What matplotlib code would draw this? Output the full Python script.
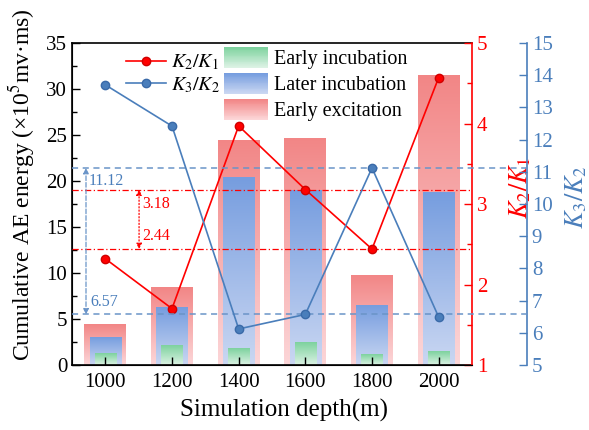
import numpy as np
import matplotlib
matplotlib.use("Agg")
from matplotlib import pyplot as plt
from matplotlib.colors import LinearSegmentedColormap, to_rgb
from matplotlib.legend_handler import HandlerBase
from matplotlib.patches import Rectangle
from matplotlib.lines import Line2D
from matplotlib.ticker import MultipleLocator

plt.rcParams['font.family'] = ['Liberation Serif', 'DejaVu Serif']
plt.rcParams['mathtext.fontset'] = 'stix'

depths = ['1000', '1200', '1400', '1600', '1800', '2000']
early_incubation = [1.27, 2.1, 1.74, 2.43, 1.12, 1.45]
later_incubation = [2.97, 6.3, 20.4, 19.0, 6.5, 18.8]
early_excitation = [4.35, 8.4, 24.4, 24.6, 9.7, 31.5]
k2_k1 = [2.32, 1.70, 3.97, 3.18, 2.44, 4.57]
k3_k2 = [13.7, 12.42, 6.12, 6.57, 11.12, 6.49]
k3_refs = [11.12, 6.57]
k2_refs = [3.18, 2.44]

RED = '#ff0000'
BLUE = '#4a7ebb'

# gradient colours (top, bottom)
grads = {
    'Early incubation': ('#7dd29e', '#dcf2e4'),
    'Later incubation': ('#769ddf', '#cad7f2'),
    'Early excitation': ('#f28686', '#fcd6d8'),
}

fig = plt.figure(figsize=(5.89, 4.30), dpi=100)
ax = fig.add_axes([72 / 589, 65 / 430, 400 / 589, 322 / 430])
ax2 = ax.twinx()
ax3 = ax.twinx()
ax3.spines['right'].set_position(('axes', 455 / 400))

x = np.arange(len(depths))


def grad_bars(values, width, key):
    top, bot = grads[key]
    cmap = LinearSegmentedColormap.from_list(key, [bot, top])
    bars = ax.bar(x, values, width, color='none', edgecolor='none')
    g = np.linspace(0, 1, 256).reshape(-1, 1)
    for b in bars:
        x0, y0 = b.get_x(), b.get_y()
        ax.imshow(g, cmap=cmap, origin='lower', aspect='auto',
                  extent=[x0, x0 + b.get_width(), y0, y0 + b.get_height()], zorder=1)


grad_bars(early_excitation, 0.63, 'Early excitation')
grad_bars(later_incubation, 0.47, 'Later incubation')
grad_bars(early_incubation, 0.32, 'Early incubation')

ax.set_xlim(-0.5, 5.5)
ax.set_ylim(0, 35)
ax.set_xticks(x)
ax.set_xticklabels(depths)
ax.yaxis.set_major_locator(MultipleLocator(5))
ax.yaxis.set_minor_locator(MultipleLocator(2.5))
ax.tick_params(axis='both', direction='in', labelsize=15, length=6, width=1)
ax.tick_params(axis='y', which='minor', direction='in', length=3.5, width=1)
ax.tick_params(axis='x', pad=6)
ax.set_ylabel('Cumulative AE energy (×10$^5$mv·ms)', fontsize=17)
ax.yaxis.set_label_coords(-0.0875, 0.56)
ax.set_xlabel('Simulation depth(m)', fontsize=18, labelpad=4)
ax.xaxis.set_label_coords(0.53, -0.105)
ax.spines['right'].set_visible(False)
for s in ['left', 'bottom', 'top']:
    ax.spines[s].set_linewidth(1.2)

# K2/K1
ax2.plot(x, k2_k1, color=RED, lw=1.2, marker='o', ms=6, mec='#d00000', mfc=RED, zorder=5)
ax2.set_ylim(1, 5)
ax2.yaxis.set_major_locator(MultipleLocator(1))
ax2.yaxis.set_minor_locator(MultipleLocator(0.5))
ax2.tick_params(axis='y', which='both', direction='in', colors=RED, labelsize=15, length=6, width=1)
ax2.tick_params(axis='y', which='minor', length=3.5)
ax2.spines['right'].set_color(RED)
ax2.spines['right'].set_linewidth(1.2)
ax2.set_ylabel('$K_2/K_1$', color=RED, fontsize=19)
ax2.yaxis.set_label_coords(1.0875, 0.55)
for v in k2_refs:
    ax2.axhline(v, color=RED, lw=0.9, ls=(0, (5, 2, 1, 2)), zorder=3)
ax2.annotate('', xy=(0.506, k2_refs[0]), xytext=(0.506, k2_refs[1]),
             arrowprops=dict(arrowstyle='<|-|>', color=RED, lw=0.9, ls=':',
                             mutation_scale=8, shrinkA=0, shrinkB=0))
ax2.text(0.56, k2_refs[0] - 0.08, '%.2f' % k2_refs[0], color=RED, fontsize=11.5, va='top')
ax2.text(0.56, k2_refs[1] + 0.06, '%.2f' % k2_refs[1], color=RED, fontsize=11.5, va='bottom')

# K3/K2
ax3.plot(x, k3_k2, color=BLUE, lw=1.2, marker='o', ms=6, mec='#3a6aa8', mfc=BLUE, zorder=5)
ax3.set_ylim(5, 15)
ax3.yaxis.set_major_locator(MultipleLocator(1))
ax3.tick_params(axis='y', direction='in', colors=BLUE, labelsize=15, length=6, width=1)
ax3.spines['right'].set_color(BLUE)
ax3.spines['right'].set_linewidth(1.2)
for s in ['left', 'top', 'bottom']:
    ax3.spines[s].set_visible(False)
ax2.spines['top'].set_visible(False)
ax3.set_ylabel('$K_3/K_2$', color=BLUE, fontsize=19)
ax3.yaxis.set_label_coords(1.2275, 0.52)
for v in k3_refs:
    ax3.axhline(v, xmax=455 / 400, color='#6a94c8', lw=1.1, ls=(0, (4, 3)), clip_on=False, zorder=3)
ax3.annotate('', xy=(-0.29, k3_refs[0]), xytext=(-0.29, k3_refs[1]),
             arrowprops=dict(arrowstyle='<|-|>', color='#6a94c8', lw=0.9, ls='--',
                             mutation_scale=8, shrinkA=0, shrinkB=0))
ax3.text(-0.25, k3_refs[0] - 0.15, '%.2f' % k3_refs[0], color=BLUE, fontsize=11.5, va='top')
ax3.text(-0.22, k3_refs[1] + 0.15, '%.2f' % k3_refs[1], color=BLUE, fontsize=11.5, va='bottom')


class GradHandler(HandlerBase):
    def __init__(self, top, bot):
        super().__init__()
        self.top = np.array(to_rgb(top))
        self.bot = np.array(to_rgb(bot))

    def create_artists(self, legend, orig_handle, xdescent, ydescent, width, height, fontsize, trans):
        n = 24
        arts = []
        for i in range(n):
            f = i / (n - 1)
            c = self.bot * (1 - f) + self.top * f
            arts.append(Rectangle((-xdescent, -ydescent + i * height / n), width, height / n * 1.05,
                                  facecolor=c, edgecolor='none', transform=trans))
        return arts


bar_handles = [Rectangle((0, 0), 1, 1) for _ in grads]
handler_map = {h: GradHandler(*grads[k]) for h, k in zip(bar_handles, grads)}
leg1 = ax3.legend(bar_handles, list(grads.keys()), handler_map=handler_map,
                  loc='upper left', bbox_to_anchor=(224 / 589, 383 / 430),
                  bbox_transform=fig.transFigure, frameon=False, fontsize=14.5,
                  handlelength=2.2, handleheight=1.2, handletextpad=0.3,
                  labelspacing=0.2, borderpad=0, borderaxespad=0)
ax3.add_artist(leg1)

line_handles = [Line2D([], [], color=RED, lw=1.2, marker='o', ms=6, mec='#d00000'),
                Line2D([], [], color=BLUE, lw=1.2, marker='o', ms=6, mec='#3a6aa8')]
ax3.legend(line_handles, ['$K_2/K_1$', '$K_3/K_2$'], loc='upper left',
           bbox_to_anchor=(126 / 589, 377 / 430), bbox_transform=fig.transFigure,
           frameon=False, fontsize=14.5, handlelength=2.0, handletextpad=0.25,
           labelspacing=0.15, borderpad=0, borderaxespad=0)

fig.savefig('out.png', dpi=100)
